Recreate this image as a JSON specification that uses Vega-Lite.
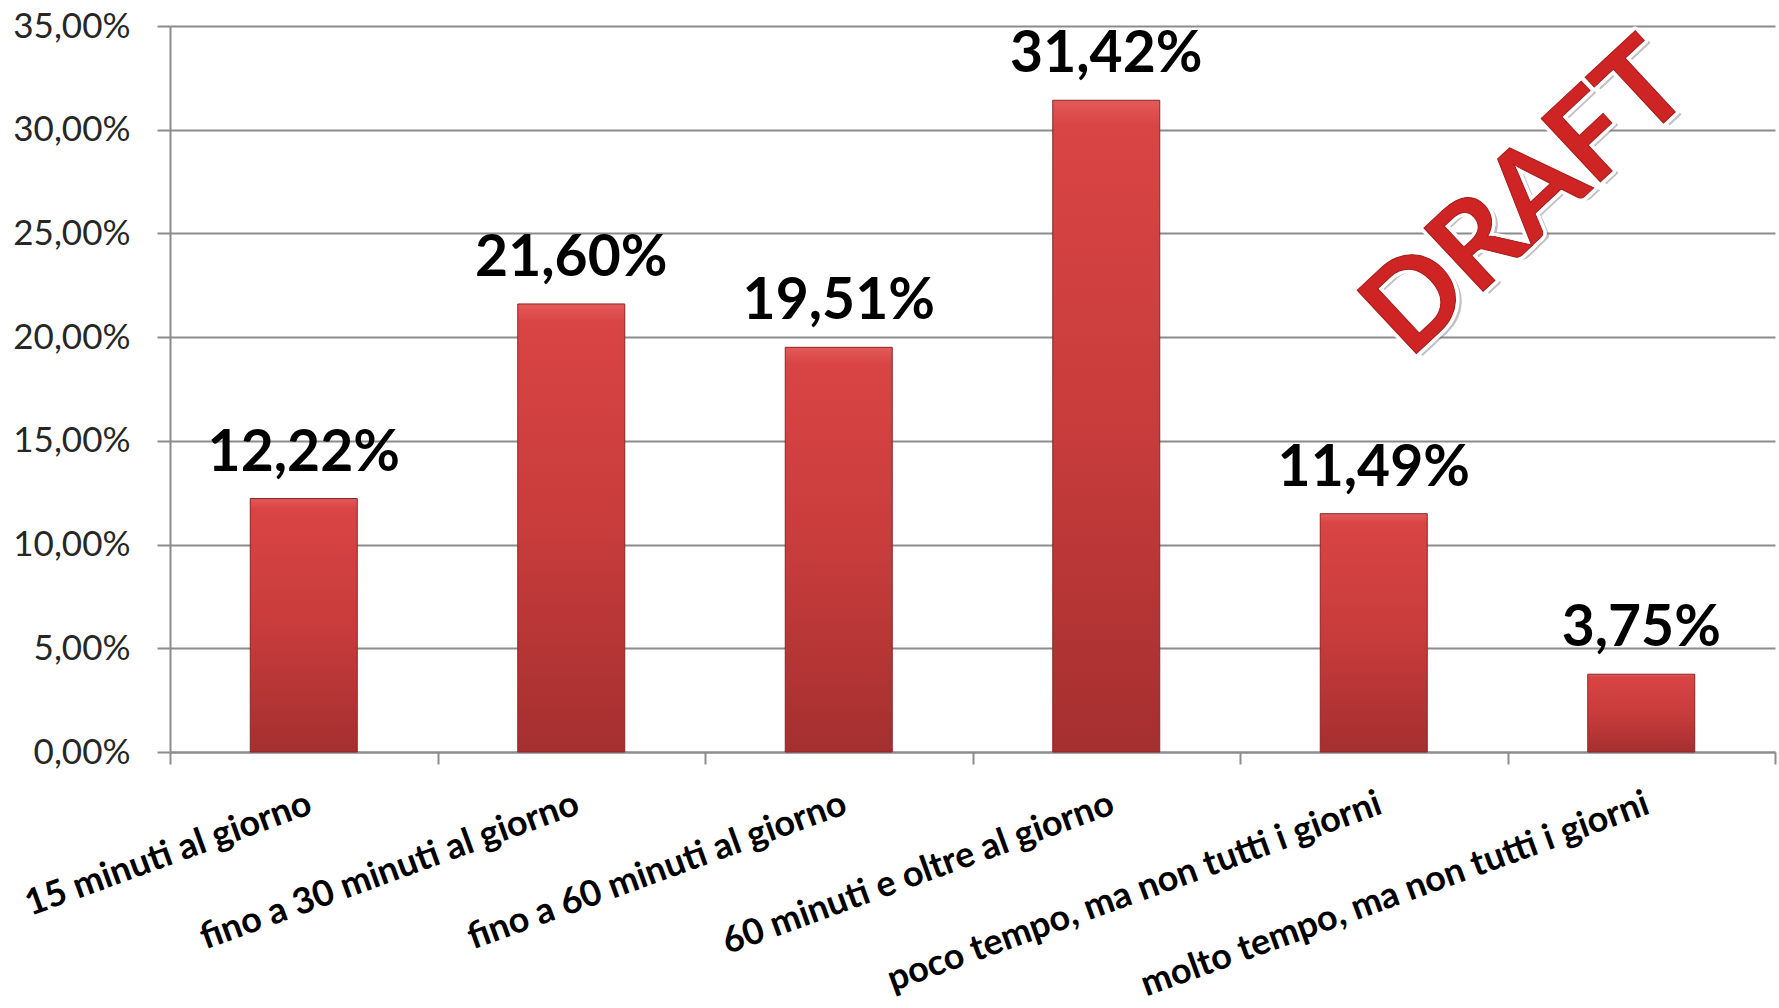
{
  "$schema": "https://vega.github.io/schema/vega-lite/v6.json",
  "width": 1605,
  "height": 726,
  "autosize": {"type": "none"},
  "padding": {"left": 170, "top": 26, "right": 4, "bottom": 256},
  "background": "white",
  "config": {
    "locale": {"number": {"decimal": ",", "thousands": ".", "grouping": [3], "currency": ["€", ""]}},
    "view": {"stroke": null},
    "font": "Lato"
  },
  "data": {
    "values": [
      {"categoria": "15 minuti al giorno", "valore": 0.1222},
      {"categoria": "fino a 30 minuti al giorno", "valore": 0.2160},
      {"categoria": "fino a 60 minuti al giorno", "valore": 0.1951},
      {"categoria": "60 minuti e oltre al giorno", "valore": 0.3142},
      {"categoria": "poco tempo, ma non tutti i giorni", "valore": 0.1149},
      {"categoria": "molto tempo, ma non tutti i giorni", "valore": 0.0375}
    ]
  },
  "resolve": {"scale": {"x": "independent"}},
  "layer": [
    {
      "mark": {
        "type": "bar",
        "width": {"band": 0.4},
        "fill": {"gradient": "linear", "x1": 0, "y1": 0, "x2": 0, "y2": 1, "stops": [
          {"offset": 0, "color": "#e35a5a"},
          {"offset": 0.04, "color": "#d94444"},
          {"offset": 0.5, "color": "#c83c3c"},
          {"offset": 1, "color": "#a52f2f"}
        ]},
        "stroke": "#8a2626",
        "strokeWidth": 1
      },
      "encoding": {
        "x": {
          "field": "categoria", "type": "nominal", "sort": null,
          "scale": {"paddingInner": 0, "paddingOuter": 0},
          "axis": {
            "title": null,
            "tickBand": "extent",
            "domainColor": "#8c8c8c", "domainWidth": 2,
            "tickColor": "#8c8c8c", "tickWidth": 2, "tickSize": 12,
            "labelAngle": -20, "labelAlign": "right", "labelBaseline": "top",
            "labelPadding": 22,
            "labelFont": "Lato", "labelFontWeight": "bold", "labelFontSize": 36,
            "labelColor": "#000000", "labelLimit": 0, "labelOverlap": false
          }
        },
        "y": {
          "field": "valore", "type": "quantitative",
          "scale": {"domain": [0, 0.35], "nice": false},
          "axis": {
            "title": null,
            "values": [0, 0.05, 0.1, 0.15, 0.2, 0.25, 0.3, 0.35],
            "format": ".2%",
            "domainColor": "#8c8c8c", "domainWidth": 2,
            "tickColor": "#8c8c8c", "tickWidth": 2, "tickSize": 13,
            "gridColor": "#8c8c8c", "gridWidth": 2,
            "labelPadding": 27,
            "labelFont": "Lato", "labelFontSize": 35, "labelColor": "#262626"
          }
        }
      }
    },
    {
      "mark": {"type": "text", "font": "Lato", "fontWeight": "bold", "fontSize": 57, "baseline": "alphabetic", "align": "center", "dy": -28, "color": "#000000"},
      "encoding": {
        "x": {"field": "categoria", "type": "nominal", "sort": null, "scale": {"paddingInner": 0, "paddingOuter": 0}, "axis": null},
        "y": {"field": "valore", "type": "quantitative", "scale": {"domain": [0, 0.35], "nice": false}},
        "text": {"field": "valore", "type": "quantitative", "format": ".2%"}
      }
    },
    {
      "data": {"values": [{"scritta": "DRAFT"}]},
      "mark": {"type": "text", "font": "Lato", "fontWeight": "bold", "fontSize": 120, "angle": -43, "align": "center", "baseline": "middle", "fill": "#777777", "opacity": 0.45, "dx": 3, "dy": 6},
      "encoding": {
        "x": {"datum": 0.846, "type": "quantitative", "scale": {"domain": [0, 1]}, "axis": null},
        "y": {"datum": 0.266, "type": "quantitative"},
        "text": {"field": "scritta"}
      }
    },
    {
      "data": {"values": [{"scritta": "DRAFT"}]},
      "mark": {"type": "text", "font": "Lato", "fontWeight": "bold", "fontSize": 120, "angle": -43, "align": "center", "baseline": "middle", "fill": "#cf2424", "stroke": "#ffffff", "strokeWidth": 8, "strokeJoin": "round"},
      "encoding": {
        "x": {"datum": 0.846, "type": "quantitative", "scale": {"domain": [0, 1]}, "axis": null},
        "y": {"datum": 0.266, "type": "quantitative"},
        "text": {"field": "scritta"}
      }
    },
    {
      "data": {"values": [{"scritta": "DRAFT"}]},
      "mark": {"type": "text", "font": "Lato", "fontWeight": "bold", "fontSize": 120, "angle": -43, "align": "center", "baseline": "middle", "fill": "#cf2424", "stroke": "#a81a1a", "strokeWidth": 1},
      "encoding": {
        "x": {"datum": 0.846, "type": "quantitative", "scale": {"domain": [0, 1]}, "axis": null},
        "y": {"datum": 0.266, "type": "quantitative"},
        "text": {"field": "scritta"}
      }
    }
  ]
}
